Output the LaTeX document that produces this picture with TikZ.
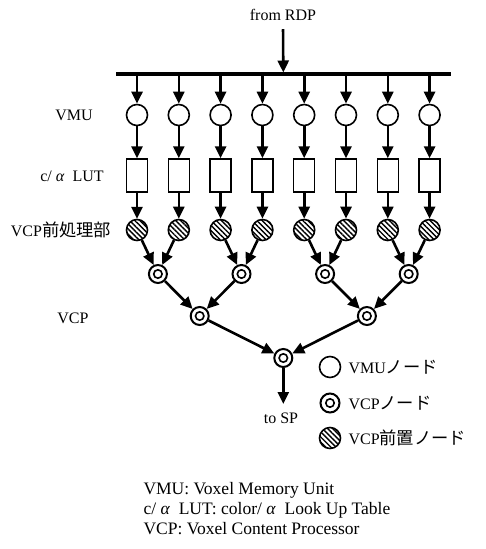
\documentclass[tikz,border=0pt]{standalone}
\usepackage{fontspec}
\setmainfont{Liberation Serif}
\newfontfamily\jpfont[Scale=1.08]{Noto Sans CJK JP}
\usetikzlibrary{arrows.meta, patterns.meta}

\begin{document}
\begin{tikzpicture}[
  x=1pt, y=-1pt,
  font=\fontsize{16}{19.5}\selectfont,
  vmu/.style={circle, draw, line width=1.6pt, minimum size=21pt, inner sep=0pt},
  lut/.style={rectangle, draw, line width=1.5pt, minimum width=21pt,
              minimum height=33pt, inner sep=0pt},
  pre/.style={circle, draw, line width=1.6pt, minimum size=21pt, inner sep=0pt,
              pattern={Lines[angle=-45, distance=3.6pt, line width=1.4pt]}},
  vcp/.style={circle, draw, line width=2pt, minimum size=18pt, inner sep=0pt,
              path picture={\draw[line width=1.6pt]
                (path picture bounding box.center) circle (4.2pt);}},
  arr/.style={-{Triangle[length=12pt, width=11pt]}, line width=2.6pt},
  bus/.style={line width=3.2pt},
  lbl/.style={font=\fontsize{16}{19.5}\selectfont},
  note/.style={font=\fontsize{17.5}{20}\selectfont}
]
\useasboundingbox (0,0) rectangle (486,549);

% ── Input bus ──────────────────────────────────────────────
\node[lbl] (rdp) at (283,15) {from RDP};
\coordinate (busL) at (116,74);
\coordinate (busR) at (451,74);
\coordinate (busM) at (283.3,72.5);
\draw[bus] (busL) -- (busR);
\draw[arr, shorten <=5pt] (rdp.south) -- (busM);

% ── Row labels ─────────────────────────────────────────────
\node[lbl] (lvmu) at (74,115)  {VMU};
\node[lbl] (llut) at (72,176)  {c/ \textit{α}\ \ LUT};
\node[lbl] (lpre) at (61,230)  {VCP{\jpfont 前処理部}};
\node[lbl] (lvcp) at (73,318)  {VCP};

% ── VMU nodes (y = 115) ────────────────────────────────────
\node[vmu] (vmu1) at (137.0,115) {};
\node[vmu] (vmu2) at (178.8,115) {};
\node[vmu] (vmu3) at (220.6,115) {};
\node[vmu] (vmu4) at (262.4,115) {};
\node[vmu] (vmu5) at (304.2,115) {};
\node[vmu] (vmu6) at (346.0,115) {};
\node[vmu] (vmu7) at (387.8,115) {};
\node[vmu] (vmu8) at (429.6,115) {};

% ── c/alpha LUT boxes (y = 175.5) ──────────────────────────
\node[lut] (lut1) at (137.0,175.5) {};
\node[lut] (lut2) at (178.8,175.5) {};
\node[lut] (lut3) at (220.6,175.5) {};
\node[lut] (lut4) at (262.4,175.5) {};
\node[lut] (lut5) at (304.2,175.5) {};
\node[lut] (lut6) at (346.0,175.5) {};
\node[lut] (lut7) at (387.8,175.5) {};
\node[lut] (lut8) at (429.6,175.5) {};

% ── VCP pre-processing nodes (y = 230) ─────────────────────
\node[pre] (pre1) at (137.0,230) {};
\node[pre] (pre2) at (178.8,230) {};
\node[pre] (pre3) at (220.6,230) {};
\node[pre] (pre4) at (262.4,230) {};
\node[pre] (pre5) at (304.2,230) {};
\node[pre] (pre6) at (346.0,230) {};
\node[pre] (pre7) at (387.8,230) {};
\node[pre] (pre8) at (429.6,230) {};

% ── VCP tree ───────────────────────────────────────────────
\node[vcp] (vcpA) at (157.9,274) {};
\node[vcp] (vcpB) at (241.5,274) {};
\node[vcp] (vcpC) at (325.1,274) {};
\node[vcp] (vcpD) at (408.7,274) {};
\node[vcp] (vcpE) at (199.7,316) {};
\node[vcp] (vcpF) at (366.9,316) {};
\node[vcp] (vcpG) at (283.3,358) {};
\coordinate (sp) at (283.3,404);
\node[lbl] (tosp) at (281,418) {to SP};

% ── Arrows: bus → VMU → LUT → pre ──────────────────────────
\draw[arr] (busL -| vmu1) -- (vmu1);
\draw[arr] (busL -| vmu2) -- (vmu2);
\draw[arr] (busL -| vmu3) -- (vmu3);
\draw[arr] (busL -| vmu4) -- (vmu4);
\draw[arr] (busL -| vmu5) -- (vmu5);
\draw[arr] (busL -| vmu6) -- (vmu6);
\draw[arr] (busL -| vmu7) -- (vmu7);
\draw[arr] (busL -| vmu8) -- (vmu8);

\draw[arr] (vmu1) -- (lut1);
\draw[arr] (vmu2) -- (lut2);
\draw[arr] (vmu3) -- (lut3);
\draw[arr] (vmu4) -- (lut4);
\draw[arr] (vmu5) -- (lut5);
\draw[arr] (vmu6) -- (lut6);
\draw[arr] (vmu7) -- (lut7);
\draw[arr] (vmu8) -- (lut8);

\draw[arr] (lut1) -- (pre1);
\draw[arr] (lut2) -- (pre2);
\draw[arr] (lut3) -- (pre3);
\draw[arr] (lut4) -- (pre4);
\draw[arr] (lut5) -- (pre5);
\draw[arr] (lut6) -- (pre6);
\draw[arr] (lut7) -- (pre7);
\draw[arr] (lut8) -- (pre8);

% ── Arrows: reduction tree ─────────────────────────────────
\draw[arr] (pre1) -- (vcpA);
\draw[arr] (pre2) -- (vcpA);
\draw[arr] (pre3) -- (vcpB);
\draw[arr] (pre4) -- (vcpB);
\draw[arr] (pre5) -- (vcpC);
\draw[arr] (pre6) -- (vcpC);
\draw[arr] (pre7) -- (vcpD);
\draw[arr] (pre8) -- (vcpD);
\draw[arr] (vcpA) -- (vcpE);
\draw[arr] (vcpB) -- (vcpE);
\draw[arr] (vcpC) -- (vcpF);
\draw[arr] (vcpD) -- (vcpF);
\draw[arr] (vcpE) -- (vcpG);
\draw[arr] (vcpF) -- (vcpG);
\draw[arr] (vcpG) -- (sp);

% ── Legend ─────────────────────────────────────────────────
\node[vmu] (keyvmu) at (330,367) {};
\node[vcp, minimum size=19pt] (keyvcp) at (330,403) {};
\node[pre] (keypre) at (330,438) {};
\node[lbl, anchor=west] (txtvmu) at (345,367) {VMU{\jpfont ノード}};
\node[lbl, anchor=west] (txtvcp) at (345,403) {VCP{\jpfont ノード}};
\node[lbl, anchor=west] (txtpre) at (345,438) {VCP{\jpfont 前置ノード}};

% ── Abbreviations ──────────────────────────────────────────
\node[note, anchor=west, align=left] (abbr) at (140,509)
  {VMU: Voxel Memory Unit\\
   c/ \textit{α}\ \ LUT: color/ \textit{α}\ \ Look Up Table\\
   VCP: Voxel Content Processor};

\end{tikzpicture}
\end{document}
